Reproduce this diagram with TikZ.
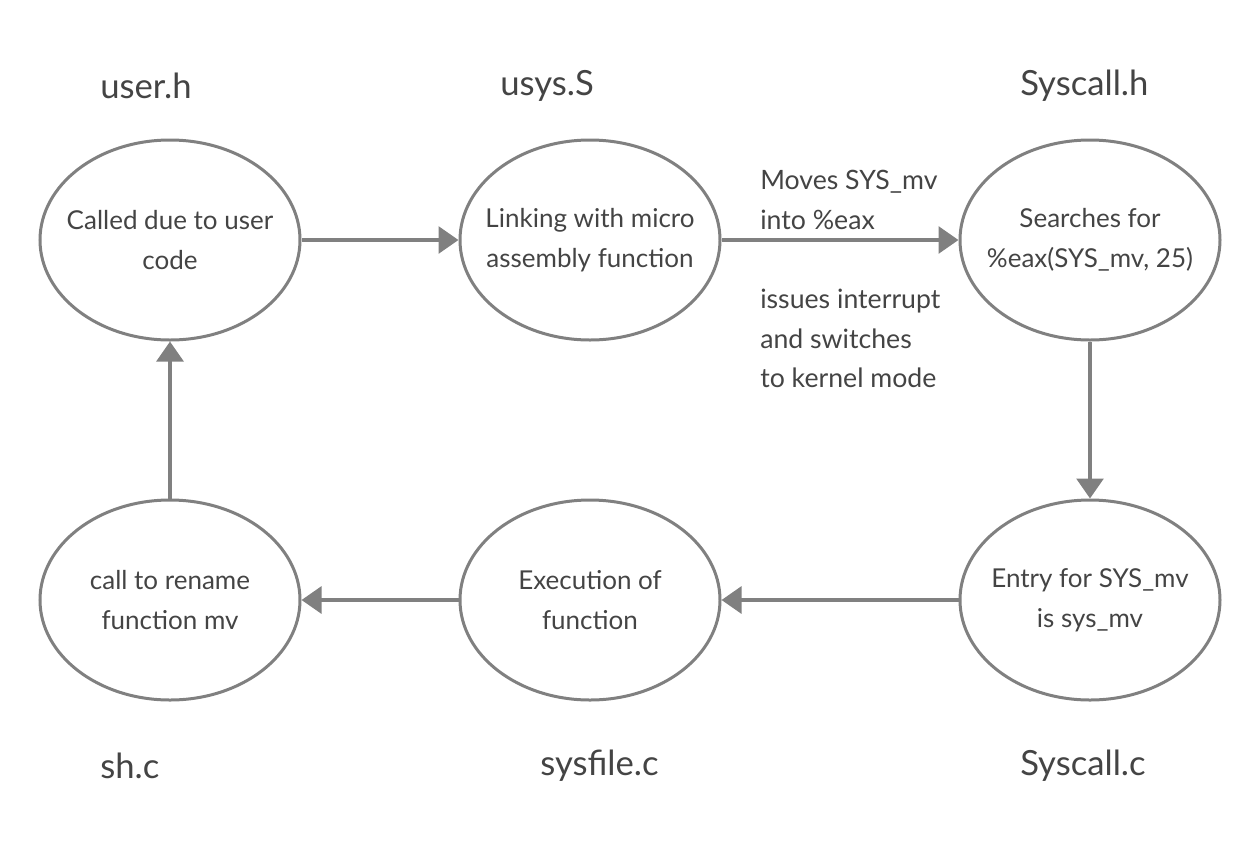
\documentclass[tikz,border=0pt]{standalone}
\usepackage{fontspec}
\setmainfont{Lato}
\usetikzlibrary{shapes.geometric,arrows.meta}
\definecolor{lineGrey}{HTML}{808080}
\definecolor{textGrey}{HTML}{444444}
\tikzset{
state/.style={draw=lineGrey, line width=2.25pt, ellipse, minimum width=195pt, minimum height=150pt, inner xsep=-40pt, inner ysep=0pt, align=center, text=textGrey, font=\fontsize{19.5}{30}\selectfont},
flow/.style={draw=lineGrey, line width=3pt, -{Triangle[length=15pt,width=20pt]}},
filename/.style={anchor=west, text=textGrey, inner sep=0pt, font=\fontsize{26}{30}\selectfont},
note/.style={anchor=north west, align=left, text=textGrey, inner sep=0pt, font=\fontsize{20}{29.6}\selectfont}}

\begin{document}
\begin{tikzpicture}[x=0.75pt,y=0.75pt,yscale=-1,xscale=1]
\useasboundingbox (0,0) rectangle (1260,850);

%Ellipses, top row
\node [state] (called) at (170,240) {Called due to user\\code};
\node [state] (linking) at (590,240) {Linking with micro\\assembly function};
\node [state] (search) at (1090,240) {Searches for\\\%eax(SYS\_mv, 25)};
%Ellipses, bottom row
\node [state] (rename) at (170,600) {call to rename\\function mv};
\node [state] (exec) at (590,600) {Execution of\\function};
\node [state] (entry) at (1090,600) {Entry for SYS\_mv\\is sys\_mv};

%File names
\node [filename] (userh) at (100,86) {user.h};
\node [filename] (usyss) at (500,86) {usys.S};
\node [filename] (syscallh) at (1020,86) {Syscall.h};
\node [filename] (shc) at (100,766) {sh.c};
\node [filename] (sysfilec) at (540,766) {sysfile.c};
\node [filename] (syscallc) at (1020,766) {Syscall.c};

%Flow
\draw [flow] (called) -- (linking);
\draw [flow] (linking) -- (search);
\draw [flow] (search) -- (entry);
\draw [flow] (entry) -- (exec);
\draw [flow] (exec) -- (rename);
\draw [flow] (rename) -- (called);

%Notes on the middle arrow
\node [note] (moves) at (760,170) {Moves SYS\_mv\\into \%eax};
\node [note] (issues) at (760,289) {issues interrupt\\and switches\\to kernel mode};
\end{tikzpicture}
\end{document}
